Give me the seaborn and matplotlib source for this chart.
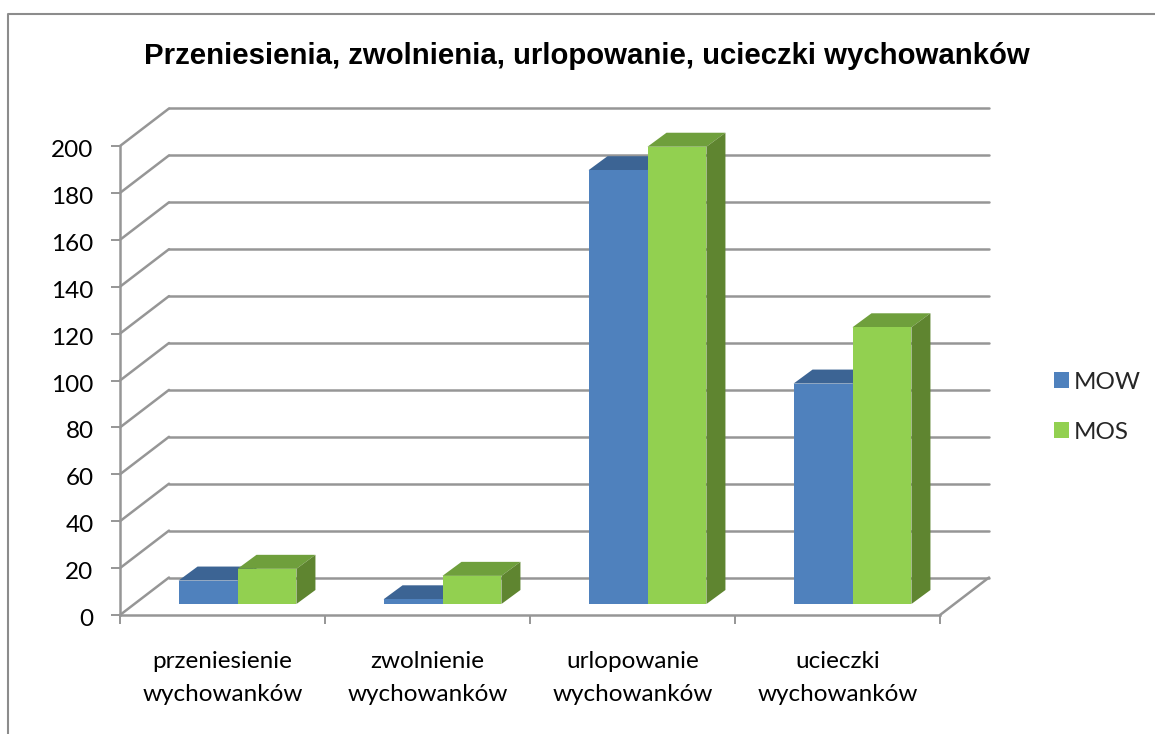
import numpy as np
import pandas as pd
import matplotlib
matplotlib.use('Agg')
import matplotlib.pyplot as plt
from matplotlib.lines import Line2D
from matplotlib.patches import Patch, Polygon
from matplotlib.transforms import Affine2D
import seaborn as sns

categories = ['przeniesienie\nwychowanków', 'zwolnienie\nwychowanków',
              'urlopowanie\nwychowanków', 'ucieczki\nwychowanków']
mow = [10, 2, 185, 94]
mos = [15, 12, 195, 118]
series_names = ['MOW', 'MOS']
y_ticks = list(range(0, 201, 20))
title = 'Przeniesienia, zwolnienia, urlopowanie, ucieczki wychowanków'

front = ['#4f81bd', '#92d050']
top = ['#3c6494', '#6f9f3c']
side = ['#3a5f8c', '#5f8530']
line_c = '#969696'

W, H = 1155, 734
sns.set_theme(style='white')
plt.rcParams['font.family'] = ['Lato', 'DejaVu Sans']

df = pd.DataFrame({
    'kat': categories * 2,
    'seria': [series_names[0]] * 4 + [series_names[1]] * 4,
    'wart': mow + mos,
})

fig = plt.figure(figsize=(W / 100, H / 100), dpi=100, facecolor='white')
# plot area in pixels: x 120-940, y 146-615 (from top)
ax = fig.add_axes([120 / W, (H - 615) / H, 820 / W, 469 / H])
ax.patch.set_alpha(0)

sns.barplot(data=df, x='kat', y='wart', hue='seria', hue_order=series_names,
            order=categories, palette=front, width=0.575, gap=0, saturation=1,
            edgecolor='none', linewidth=0, legend=False, ax=ax)
ax.set_xlim(-0.5, 3.5)
ax.set_ylim(0, 200)
ax.set_xlabel('')
ax.set_ylabel('')
fig.canvas.draw()

# walls: same data coords shifted to the back by pixels
back = ax.transData + Affine2D().translate(49, 37.5)
for v in y_ticks:
    ax.plot([-0.5, 3.5], [v, v], color=line_c, lw=1.8, transform=back, clip_on=False, zorder=1)
    x0, y0 = ax.transData.transform((-0.5, v))
    ax.add_line(Line2D([x0, x0 + 49], [y0, y0 + 37.5], color=line_c, lw=1.8,
                       transform=None, clip_on=False, zorder=1))
x0, y0 = ax.transData.transform((3.5, 0))
ax.add_line(Line2D([x0, x0 + 49], [y0, y0 + 37.5], color=line_c, lw=1.8, transform=None,
                   clip_on=False, zorder=1))

# 3d bars: move the seaborn bars forward and add their top and side faces
shift = Affine2D().translate(15, 11)
dx, dy = 19, 14
for i, cont in enumerate(ax.containers):
    for bar in cont:
        bar.set_transform(ax.transData + shift)
        bar.set_clip_on(False)
        bar.set_zorder(3 + i * 0.5)
        (xa, ya), (xb, yb) = (ax.transData + shift).transform(
            [(bar.get_x(), bar.get_y()), (bar.get_x() + bar.get_width(), bar.get_height())])
        ax.add_patch(Polygon([(xa, yb), (xb, yb), (xb + dx, yb + dy), (xa + dx, yb + dy)],
                             closed=True, fc=top[i], ec='none', transform=None,
                             clip_on=False, zorder=2.9 + i * 0.5))
        ax.add_patch(Polygon([(xb, ya), (xb + dx, ya + dy), (xb + dx, yb + dy), (xb, yb)],
                             closed=True, fc=side[i], ec='none', transform=None,
                             clip_on=False, zorder=2.9 + i * 0.5))

sns.despine(ax=ax)
for s in ['left', 'bottom']:
    ax.spines[s].set_color(line_c)
    ax.spines[s].set_linewidth(1.8)

ax.set_yticks(y_ticks)
ax.tick_params(axis='y', left=True, length=6.5, width=1.4, color=line_c, labelsize=17.5,
               labelcolor='black', pad=12.5)
for lab in ax.get_yticklabels():
    lab.set_transform(lab.get_transform() + Affine2D().translate(0, -2.5))
ax.set_xticks(range(len(categories)))
ax.set_xticklabels(categories, linespacing=1.7)
ax.tick_params(axis='x', which='major', bottom=False, labelsize=17.5, labelcolor='black', pad=20)
ax.set_xticks(np.arange(-0.5, 4), minor=True)
ax.tick_params(axis='x', which='minor', bottom=True, length=6.5, width=1.4, color=line_c)

fig.suptitle(title, x=587 / W, y=1 - 56 / H, va='center', ha='center', fontsize=21.15,
             fontweight='bold', family=['Liberation Sans', 'DejaVu Sans'], color='black')

# chart border, cut off by the crop on the right and bottom
fig.add_artist(Line2D([7.5 / W, 7.5 / W, 1], [0, 1 - 13.5 / H, 1 - 13.5 / H],
                      color='#8c8c8c', lw=1.5, transform=fig.transFigure))

handles = [Patch(fc=front[0], ec='none'), Patch(fc=front[1], ec='none')]
fig.legend(handles, series_names, loc='upper left', bbox_to_anchor=(1044 / W, 1 - 362 / H),
           frameon=False, fontsize=17.5, handlelength=0.64, handleheight=0.64,
           handletextpad=0.2, labelspacing=1.2, borderpad=0.4, borderaxespad=0)

fig.savefig('out.png', dpi=100)
